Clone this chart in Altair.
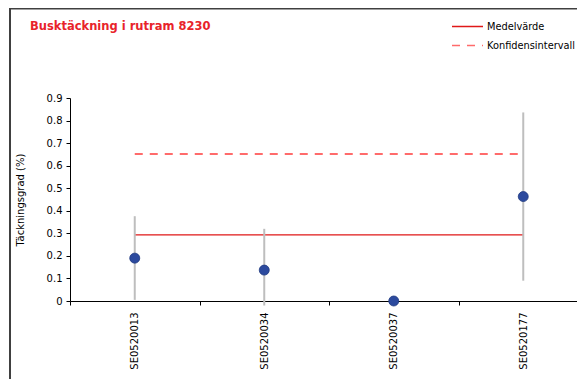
import altair as alt
import pandas as pd

categories = ["SE0520013", "SE0520034", "SE0520037", "SE0520177"]
values = [0.19, 0.137, 0.0, 0.463]
ci_low = [0.005, -0.02, 0.0, 0.09]
ci_high = [0.376, 0.32, 0.0, 0.836]
series_names = ["Medelvärde", "Konfidensintervall"]
mean_value = 0.293
ci_mean_upper = 0.652
y_ticks = [0, 0.1, 0.2, 0.3, 0.4, 0.5, 0.6, 0.7, 0.8, 0.9]

FONT = "DejaVu Sans"

points_df = pd.DataFrame({"kat": categories, "v": values, "lo": ci_low, "hi": ci_high})
lines_df = pd.DataFrame(
    [{"kat": c, "v": mean_value, "serie": series_names[0]} for c in categories]
    + [{"kat": c, "v": ci_mean_upper, "serie": series_names[1]} for c in categories]
)
frame_df = pd.DataFrame({"a": [0]})

x_enc = alt.X(
    "kat:N",
    sort=categories,
    scale=alt.Scale(range=[0, 518], paddingInner=0, paddingOuter=0),
    axis=alt.Axis(
        title=None, labelAngle=270, tickBand="extent", tickSize=4, labelPadding=7,
        domainColor="#000000", tickColor="#000000", labelColor="#000000",
        labelFont=FONT, labelFontSize=10, grid=False,
    ),
)

def y_enc(field):
    return alt.Y(
        field,
        type="quantitative",
        scale=alt.Scale(domain=[0, 0.9], nice=False, zero=False),
        axis=alt.Axis(
            title="Täckningsgrad (%)", values=y_ticks, format=".1~f", tickSize=4,
            labelPadding=4, titlePadding=21, domainColor="#000000", tickColor="#000000",
            labelColor="#000000", titleColor="#000000", labelFont=FONT, titleFont=FONT,
            labelFontSize=10, titleFontSize=10, titleFontWeight="normal", grid=False,
        ),
    )

color_scale = alt.Scale(domain=series_names, range=["#E01818", "#FF6B6B"])
dash_scale = alt.Scale(domain=series_names, range=[[1, 0], [8, 7]])
legend = alt.Legend(
    title=None, orient="none", legendX=381, legendY=-80, symbolType="stroke",
    symbolSize=961, symbolStrokeWidth=1.5, clipHeight=17, rowPadding=2, labelFont=FONT,
    labelFontSize=9.8, labelColor="#000000", labelOffset=3,
)

frame = alt.Chart(frame_df).mark_rect(
    fill=None, stroke="#404040", strokeWidth=2
).encode(
    x=alt.value(-60), x2=alt.value(700), y=alt.value(-89.5), y2=alt.value(500)
)

mean_line = alt.Chart(lines_df).transform_filter(
    alt.datum.serie == series_names[0]
).mark_line(strokeWidth=1.2).encode(
    x=x_enc, y=y_enc("v"),
    color=alt.Color("serie:N", scale=color_scale, legend=legend),
    strokeDash=alt.StrokeDash("serie:N", scale=dash_scale, legend=legend),
)
ci_line = alt.Chart(lines_df).transform_filter(
    alt.datum.serie == series_names[1]
).mark_line(strokeWidth=2).encode(
    x=x_enc, y=y_enc("v"),
    color=alt.Color("serie:N", scale=color_scale, legend=legend),
    strokeDash=alt.StrokeDash("serie:N", scale=dash_scale, legend=legend),
)

bars = alt.Chart(points_df).mark_rule(color="#BEBEBE", strokeWidth=2).encode(
    x=x_enc, y=y_enc("lo"), y2="hi"
)
pts = alt.Chart(points_df).mark_circle(
    size=100, color="#2C4A9E", opacity=1, stroke="#1F3A80", strokeWidth=0.8
).encode(x=x_enc, y=y_enc("v"))

chart = alt.layer(frame, mean_line, ci_line, bars, pts).properties(
    width=507,
    height=203,
    autosize=alt.AutoSizeParams(type="none"),
    padding={"left": 62, "top": 90, "right": 0, "bottom": 78},
    title=alt.Title(
        "Busktäckning i rutram 8230", anchor="start", frame="group", dx=-40, dy=29,
        color="#E8232A", font=FONT, fontSize=11.5, fontWeight="bold",
    ),
).configure_view(stroke=None)

chart.save("out.html", embed_options={"renderer": "svg", "actions": False})
